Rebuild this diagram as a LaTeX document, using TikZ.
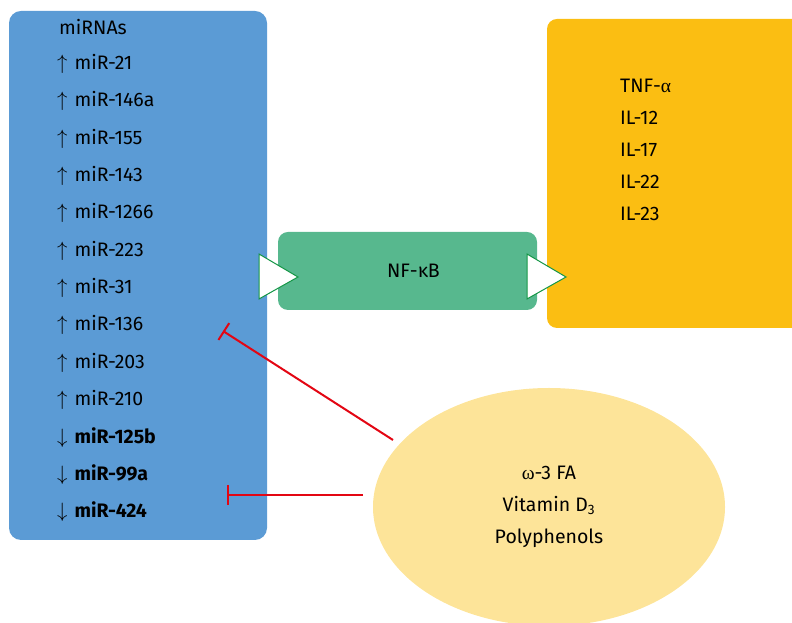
\documentclass[tikz,border=0pt]{standalone}
\usepackage{fontspec}
\setmainfont{Fira Sans}
\newfontfamily\greekfont{Liberation Serif}
\usetikzlibrary{shapes, arrows.meta, positioning}

\definecolor{mirblue}{RGB}{91,155,213}
\definecolor{nfgreen}{RGB}{87,184,142}
\definecolor{cytoorange}{RGB}{251,190,18}
\definecolor{dietyellow}{RGB}{253,228,153}
\definecolor{inhred}{RGB}{227,6,19}
\definecolor{trigreen}{RGB}{20,150,70}

\begin{document}
\begin{tikzpicture}[x=1pt, y=1pt, font=\fontsize{19.5}{32}\selectfont,
    box/.style={rounded corners=12pt, inner sep=0pt},
    tri/.style={draw=trigreen, fill=white, line width=1pt, line join=miter},
    inhibit/.style={draw=inhred, line width=2pt, -{Bar[width=20pt]}}]
    \clip (0,0) rectangle (792,623);

    % boxes
    \node[box, fill=mirblue, minimum width=258pt, minimum height=529pt] at (138,347.5) (mirnas) {};
    \node[box, fill=nfgreen, minimum width=259pt, minimum height=78pt, rounded corners=10pt] at (407.5,352) (nfkb) {\hspace{12pt}NF-κB};
    \node[box, fill=cytoorange, minimum width=260pt, minimum height=309pt, rounded corners=10pt] at (677,449.5) (cyto) {};
    \node[ellipse, fill=dietyellow, minimum width=352pt, minimum height=238pt, align=center] at (549,116) (diet) {{\greekfont ω}-3 FA\\Vitamin D\textsubscript{3}\\Polyphenols};

    % miRNA list
    \node[anchor=west, inner sep=0pt] at (59,596) (mirtitle) {miRNAs};
    \foreach \name [count=\i from 0] in {21, 146a, 155, 143, 1266, 223, 31, 136, 203, 210} {
        \node[anchor=west, inner sep=0pt] at (57, 559-37.33*\i) (up\i) {$\uparrow$\hspace{7pt}miR-\name};
    };
    \foreach \name [count=\i from 10] in {125b, 99a, 424} {
        \node[anchor=west, inner sep=0pt] at (57, 559-37.33*\i) (down\i) {$\downarrow$\hspace{7pt}\textbf{miR-\name}};
    };

    % cytokines
    \node[anchor=west, align=left, inner sep=0pt] at (620,473) (cytolist) {TNF-{\greekfont α}\\IL-12\\IL-17\\IL-22\\IL-23};

    % arrowheads
    \draw[tri] (259,369) -- (298,346) -- (259,324) -- cycle;
    \draw[tri] (527,369) -- (566,346) -- (527,324) -- cycle;

    % inhibition
    \coordinate (src136) at (393,183);
    \coordinate (tgt136) at (223,292);
    \coordinate (src424) at (363,128);
    \coordinate (tgt424) at (227,128);
    \draw[inhibit] (src136) -- (tgt136);
    \draw[inhibit] (src424) -- (tgt424);
\end{tikzpicture}
\end{document}
